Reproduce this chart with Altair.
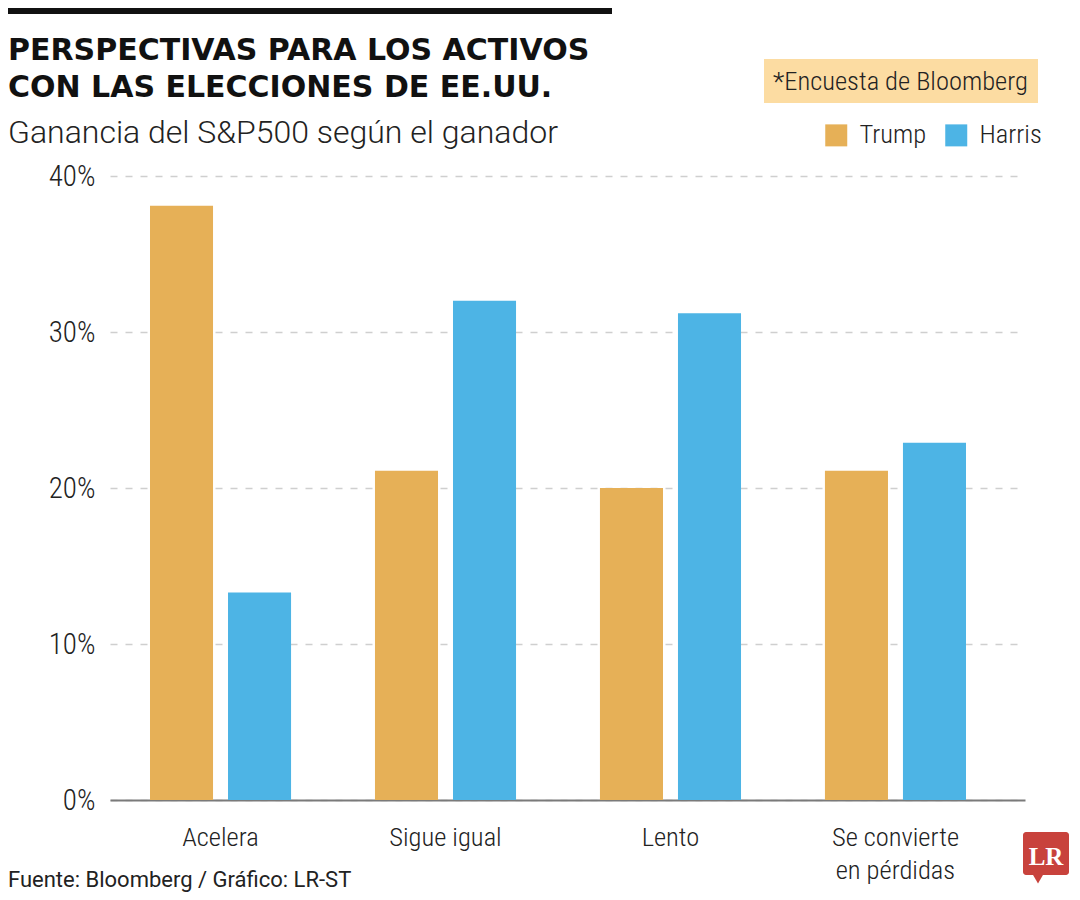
import altair as alt
import pandas as pd

# ---- data ----
categorias = ["Acelera", "Sigue igual", "Lento", "Se convierte en pérdidas"]
trump = [38.1, 21.1, 20.0, 21.1]
harris = [13.3, 32.0, 31.2, 22.9]
series = ["Trump", "Harris"]
colores = ["#E6B057", "#4DB4E5"]
y_ticks = [0, 10, 20, 30, 40]

titulo = ["PERSPECTIVAS PARA LOS ACTIVOS", "CON LAS ELECCIONES DE EE.UU."]
subtitulo = "Ganancia del S&P500 según el ganador"
nota = "*Encuesta de Bloomberg"
fuente = "Fuente: Bloomberg / Gráfico: LR-ST"
logo = "LR"

rows = []
for c, t, h in zip(categorias, trump, harris):
    rows.append({"categoria": c, "candidato": "Trump", "valor": t})
    rows.append({"categoria": c, "candidato": "Harris", "valor": h})
df = pd.DataFrame(rows)

NARROW = "Roboto Condensed, DejaVu Sans Condensed, sans-serif"
LIGHT = "Roboto Light, Roboto, sans-serif"
SANS = "Roboto, Liberation Sans, sans-serif"
BOLD = "DejaVu Sans, sans-serif"

one = alt.Data(values=[{}])

def txt(s, x, y, size, font, weight="normal", color="#1a1a1a", align="left"):
    return alt.Chart(one).mark_text(
        text=s, font=font, fontSize=size, fontWeight=weight, color=color,
        align=align, baseline="alphabetic"
    ).encode(x=alt.value(x), y=alt.value(y))

def box(x, x2, y, y2, color, radius=0):
    return alt.Chart(one).mark_rect(color=color, cornerRadius=radius).encode(
        x=alt.value(x), x2=alt.value(x2), y=alt.value(y), y2=alt.value(y2)
    )

bars = alt.Chart(df).mark_bar().encode(
    x=alt.X(
        "categoria:N", sort=categorias, title=None,
        scale=alt.Scale(paddingInner=0.373, paddingOuter=0.22, align=0.404),
        axis=alt.Axis(
            labelExpr="datum.value == 'Se convierte en pérdidas' ? ['Se convierte', 'en pérdidas'] : datum.value",
            labelFont=NARROW, labelFontSize=26.5, labelFontWeight=300, labelColor="#222222",
            labelPadding=24, labelLineHeight=33, labelAngle=0,
            ticks=False, tickSize=0, domain=True, domainColor="#7a7a7a",
            domainWidth=2, grid=False,
        ),
    ),
    xOffset=alt.XOffset("candidato:N", sort=series,
                        scale=alt.Scale(paddingInner=0.192, paddingOuter=0)),
    y=alt.Y(
        "valor:Q", title=None,
        scale=alt.Scale(domain=[0, 40], nice=False),
        axis=alt.Axis(
            values=y_ticks, labelExpr="datum.value + '%'",
            labelFont=NARROW, labelFontSize=29, labelFontWeight=300, labelColor="#222222",
            labelPadding=15, ticks=False, tickSize=0, domain=False,
            grid=True, gridColor="#cfcfcf", gridDash=[7, 8], gridWidth=1.5,
        ),
    ),
    color=alt.Color(
        "candidato:N", sort=series,
        scale=alt.Scale(domain=series, range=colores),
        legend=alt.Legend(
            orient="none", legendX=713, legendY=-54, direction="horizontal",
            title=None, symbolType="square", symbolSize=484,
            symbolStrokeWidth=0, symbolOpacity=1,
            labelFont=NARROW, labelFontSize=26.5, labelFontWeight=300, labelColor="#222222",
            labelOffset=10, columnPadding=16, padding=0,
        ),
    ),
)

layers = [
    box(-102, 502, -168, -162, "#111111"),
    txt(titulo[0], -102, -116, 30, BOLD, "bold", "#111111"),
    txt(titulo[1], -102, -79, 30, BOLD, "bold", "#111111"),
    txt(subtitulo, -102, -33, 32, LIGHT, 300, "#222222"),
    box(654, 928, -117, -73, "#FCDCA2"),
    txt(nota, 663, -86, 26.5, NARROW, 300, "#222222"),
    bars,
    txt(fuente, -102, 711, 22, SANS, "normal", "#222222"),
    box(913, 959, 656, 699, "#C8423C", 3),
    alt.Chart(one).mark_point(shape="triangle-down", filled=True, color="#C8423C",
                              size=110, opacity=1).encode(x=alt.value(928), y=alt.value(703)),
    txt(logo, 936, 689, 25, "Liberation Serif, DejaVu Serif, serif", "bold", "#ffffff", "center"),
]

chart = alt.layer(*layers).properties(
    width=915, height=624,
    padding={"left": 102, "top": 168, "right": 47, "bottom": 92},
    autosize=alt.AutoSizeParams(type="none"),
    background="#ffffff",
).configure_view(strokeWidth=0)

chart.save("out.html", embed_options={"renderer": "svg", "actions": False})
